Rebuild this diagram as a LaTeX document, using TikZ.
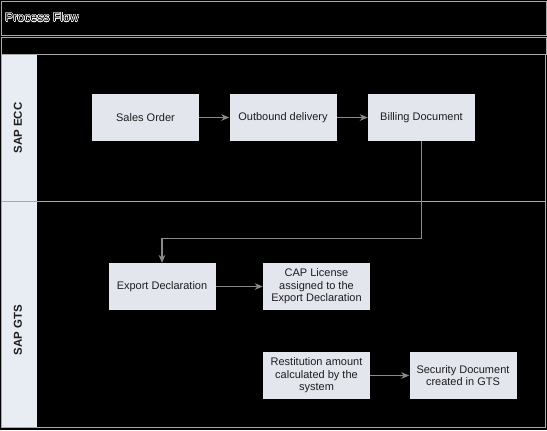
\documentclass[tikz,border=0pt]{standalone}
\usepackage{fontspec}
\setmainfont{Liberation Sans}
\usepackage[copies]{contour}
\contourlength{0.35pt}
\usetikzlibrary{arrows.meta}
\definecolor{boxfill}{HTML}{E4E6EE}
\definecolor{lanefill}{HTML}{E8EDF3}
\definecolor{rule}{HTML}{A8A8A8}
\definecolor{arrowc}{HTML}{8A8A8A}
\definecolor{txt}{HTML}{1E1E1E}
\tikzset{
  stepbox/.style={fill=boxfill, draw=none, minimum width=80.25pt, minimum height=35pt,
    align=center, text=txt, font=\fontsize{8.25pt}{9.4pt}\selectfont, inner sep=1pt},
  lanelabel/.style={rotate=90, text=txt, font=\fontsize{8.6pt}{10pt}\selectfont\bfseries},
  arr/.style={draw=arrowc, line width=0.8pt, -{Stealth[length=6pt,width=5pt]}},
  frame/.style={draw=rule, line width=0.75pt}
}
\begin{document}
\begin{tikzpicture}[x=0.75pt, y=-0.75pt]
\useasboundingbox (0,0) rectangle (547,430);
\fill[black] (0,0) rectangle (547,430);
% header bars
\draw[frame] (1,1) rectangle (546,35);
\draw[frame] (1,37) rectangle (546,54);
\node[anchor=west, inner sep=0pt, font=\fontsize{9.2pt}{10pt}\selectfont] (title) at (5,17.5)
  {\contour{white}{\textcolor{black}{Process Flow}}};
% left lane column
\fill[lanefill] (2,55) rectangle (37,427);
\draw[frame] (1,201) -- (546,201);
\draw[frame] (1,427.5) -- (546,427.5);
\draw[frame] (1.5,54) -- (1.5,428);
\draw[frame] (545.5,54) -- (545.5,428);
\node[lanelabel] (ecc) at (18,128) {SAP ECC};
\node[lanelabel] (gts) at (18,330) {SAP GTS};
% boxes
\node[stepbox] (so) at (145.5,117.5) {Sales Order};
\node[stepbox] (ob) at (283,117.5) {Outbound delivery};
\node[stepbox] (bill) at (421.5,117.5) {Billing Document};
\node[stepbox] (exp) at (162,286.5) {Export Declaration};
\node[stepbox] (cap) at (316.5,286.5) {CAP License\\assigned to the\\Export Declaration};
\node[stepbox] (rest) at (316.5,375.5) {Restitution amount\\calculated by the\\system};
\node[stepbox] (sec) at (463,375.5) {Security Document\\created in GTS};
% connectors
\draw[arr] (so) -- (ob);
\draw[arr] (ob) -- (bill);
\draw[arr] (bill.south) -- ++(0,97) -| (exp.north);
\draw[arr] (exp) -- (cap);
\draw[arr] (rest) -- (sec);
\end{tikzpicture}
\end{document}
